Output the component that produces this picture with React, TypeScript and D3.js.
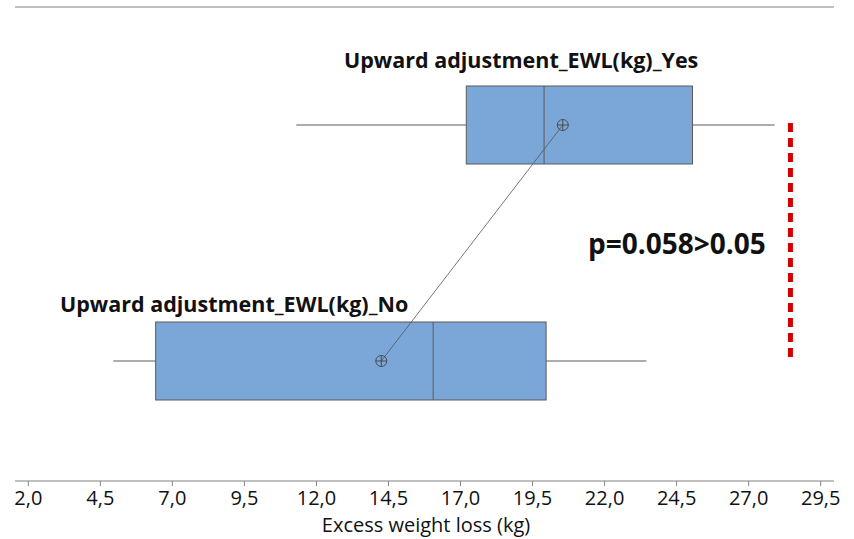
import React from "react";
import * as d3 from "d3";

const groups = ["Upward adjustment_EWL(kg)_Yes", "Upward adjustment_EWL(kg)_No"];
const whiskerLow = [11.3, 4.95];
const q1 = [17.2, 6.42];
const median = [19.9, 16.05];
const q3 = [25.05, 19.97];
const whiskerHigh = [27.9, 23.45];
const means = [20.55, 14.25];
const tickValues = [2, 4.5, 7, 9.5, 12, 14.5, 17, 19.5, 22, 24.5, 27, 29.5];
const pText = "p=0.058>0.05";
const refLineValue = 28.45;
const xTitle = "Excess weight loss (kg)";

const W = 854;
const H = 539;

export default function App() {
  const x = d3.scaleLinear().domain([2, 29.5]).range([28.3, 820.7]);
  const y = d3.scalePoint<string>().domain(groups).range([125, 361]);
  const boxH = 78;
  const fmt = (v: number) => d3.format(".1f")(v).replace(".", ",");
  const fill = "#7ba6d8";
  const stroke = "#5a5a5a";
  const meanLine = d3.line<number>()
    .x((_, i) => x(means[i]))
    .y((_, i) => y(groups[i]) as number);

  return (
    <svg width={W} height={H} style={{ position: "absolute", left: 0, top: 0, background: "#fff" }}
      fontFamily="'Open Sans', sans-serif">
      <line x1={15} x2={834} y1={7} y2={7} stroke="#aaa" strokeWidth={1.5} />
      {groups.map((g, i) => {
        const cy = y(g) as number;
        return (
          <g key={g}>
            <line x1={x(whiskerLow[i])} x2={x(q1[i])} y1={cy} y2={cy} stroke={stroke} strokeWidth={1} />
            <line x1={x(q3[i])} x2={x(whiskerHigh[i])} y1={cy} y2={cy} stroke={stroke} strokeWidth={1} />
            <rect x={x(q1[i])} y={cy - boxH / 2} width={x(q3[i]) - x(q1[i])} height={boxH}
              fill={fill} stroke={stroke} strokeWidth={1} />
            <line x1={x(median[i])} x2={x(median[i])} y1={cy - boxH / 2} y2={cy + boxH / 2} stroke={stroke} strokeWidth={1} />
          </g>
        );
      })}
      <path d={meanLine(means) || ""} fill="none" stroke="#555" strokeWidth={0.8} />
      {groups.map((g, i) => {
        const cx = x(means[i]);
        const cy = y(g) as number;
        return (
          <g key={"m" + g} stroke="#444" strokeWidth={0.9} fill="none">
            <circle cx={cx} cy={cy} r={5.5} />
            <line x1={cx - 5.5} x2={cx + 5.5} y1={cy} y2={cy} />
            <line x1={cx} x2={cx} y1={cy - 5.5} y2={cy + 5.5} />
          </g>
        );
      })}
      <text x={344} y={68} fontSize={21.5} fontWeight="bold" fill="#111">{groups[0]}</text>
      <text x={60} y={312} fontSize={21.5} fontWeight="bold" fill="#111">{groups[1]}</text>
      <text x={588} y={254} fontSize={28} fontWeight="bold" fill="#111">{pText}</text>
      <line x1={x(refLineValue)} x2={x(refLineValue)} y1={123} y2={360}
        stroke="#d40000" strokeWidth={5} strokeDasharray="9 6" />
      <line x1={15} x2={834} y1={481} y2={481} stroke="#aaa" strokeWidth={1.5} />
      {tickValues.map((t) => (
        <g key={t}>
          <line x1={x(t)} x2={x(t)} y1={481} y2={486} stroke="#888" strokeWidth={1} />
          <text x={x(t)} y={505} fontSize={20} textAnchor="middle" fill="#111">{fmt(t)}</text>
        </g>
      ))}
      <text x={426} y={532} fontSize={20} textAnchor="middle" fill="#111">{xTitle}</text>
    </svg>
  );
}
